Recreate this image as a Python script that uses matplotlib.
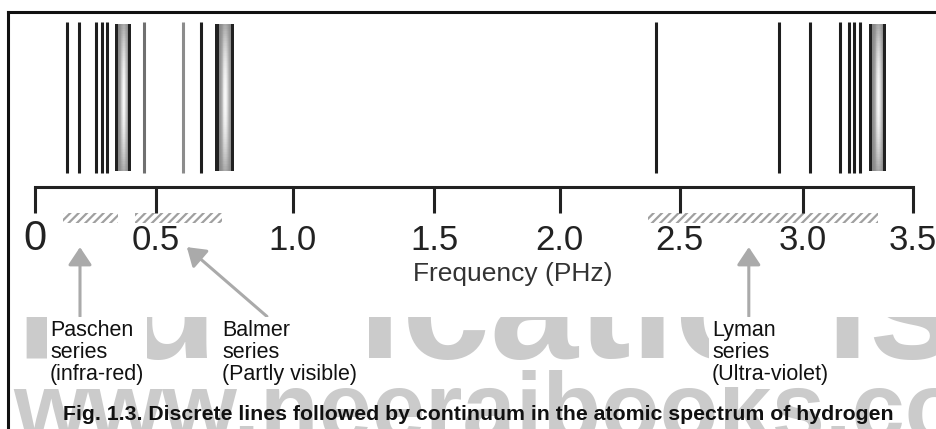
import numpy as np
import matplotlib.pyplot as plt
from matplotlib.patches import Rectangle

plt.rcParams['font.family'] = ['Liberation Sans', 'DejaVu Sans']
plt.rcParams['hatch.linewidth'] = 1.6

# spectral lines (PHz)
paschen_lines = [0.132, 0.182, 0.252, 0.276, 0.299]
paschen_band = (0.331, 0.397)
balmer_lines = [0.452, 0.599, 0.664]
balmer_band = (0.716, 0.785)
lyman_lines = [2.399, 2.903, 3.030, 3.170, 3.209, 3.234, 3.261]
lyman_band = (3.300, 3.379)

# continuum (hatched) ranges under the axis
paschen_cont = (0.116, 0.343)
balmer_cont = (0.413, 0.741)
lyman_cont = (2.367, 3.341)

tick_vals = [0, 0.5, 1.0, 1.5, 2.0, 2.5, 3.0, 3.5]
tick_labels = ['0', '0.5', '1.0', '1.5', '2.0', '2.5', '3.0', '3.5']

series_names = ['Paschen\nseries\n(infra-red)',
                'Balmer\nseries\n(Partly visible)',
                'Lyman\nseries\n(Ultra-violet)']
arrow_tips = [0.186, 0.613, 2.78]
arrow_tails = [0.186, 0.906, 2.78]

caption = 'Fig. 1.3. Discrete lines followed by continuum in the atomic spectrum of hydrogen'

W, H = 937, 429
def fx(px):
    return px / W
def fy(py):
    return 1 - py / H

# the axis in the book is hand drawn, ticks are not evenly spaced
drawn_px = [35, 156, 292.7, 434.3, 560, 680, 803.3, 913.3]
xv = [-100] + tick_vals + [100]
xp = [drawn_px[0] - 100 * 242] + drawn_px + [drawn_px[-1] + 96.5 * 220]

def fwd(x):
    return np.interp(x, xv, xp)
def inv(p):
    return np.interp(p, xp, xv)

fig = plt.figure(figsize=(9.37, 4.29), dpi=100)

# outer frame (top + left only)
frame = fig.add_axes([fx(8), -0.05, 1.0, (H - 12) / H + 0.05])
frame.set_zorder(-2)
frame.patch.set_visible(False)
frame.set_xticks([]); frame.set_yticks([])
for s in ['right', 'bottom']:
    frame.spines[s].set_visible(False)
for s in ['left', 'top']:
    frame.spines[s].set_linewidth(2.2)
    frame.spines[s].set_color('#111111')

# watermark
wm = fig.add_axes([fx(8), fy(429), (W - 8) / W, (429 - 317) / H])
wm.set_zorder(-1)
wm.set_xlim(0, W - 8)
wm.set_ylim(429 - 317, 0)
wm.axis('off')
wm.text(7, 41, 'Publications', fontsize=114, fontweight='bold', color='#cbcbcb',
        va='baseline', ha='left', clip_on=True)
wm.text(5, 123, 'www.neerajbooks.com', fontsize=69, fontweight='bold', color='#cbcbcb',
        va='baseline', ha='left', clip_on=True)

# main spectrum axes
ax = fig.add_axes([fx(35), fy(187), (913 - 35) / W, (187 - 20) / H])
ax.patch.set_visible(False)
ax.set_xscale('function', functions=(fwd, inv))

dark = '#1e1e1e'
ylo, yhi = 0.084, 0.988
ax.vlines(paschen_lines, ylo, yhi, color=dark, lw=2.2)
ax.vlines(balmer_lines, ylo, yhi, color=['#707070', '#8c8c8c', dark], lw=2.2)
ax.vlines(lyman_lines, ylo, yhi, color=dark, lw=2.2)

def draw_band(x0, x1):
    nx, ny = 40, 60
    xe = np.linspace(x0, x1, nx + 1)
    ye = np.linspace(ylo + 0.01, yhi - 0.01, ny + 1)
    u = (np.arange(nx) + 0.5) / nx
    v = (np.arange(ny) + 0.5) / ny
    U, V = np.meshgrid(u, v)
    glow = 0.52 + 0.45 * np.exp(-((U - 0.55) / 0.2) ** 2) * (1 - 0.7 * (2 * V - 1) ** 2)
    C = np.where((U < 0.2) | (U > 0.82), 0.13, glow)
    ax.pcolormesh(xe, ye, C, cmap='gray', vmin=0, vmax=1, shading='flat')

for b in [paschen_band, balmer_band, lyman_band]:
    draw_band(*b)

ax.set_xlim(0, 3.5)
ax.set_ylim(0, 1)
for s in ['top', 'left', 'right']:
    ax.spines[s].set_visible(False)
ax.spines['bottom'].set_linewidth(2.2)
ax.spines['bottom'].set_color('#222222')
ax.set_yticks([])
ax.set_xticks(tick_vals)
ax.set_xticklabels(tick_labels, va='baseline')
ax.tick_params(axis='x', direction='out', length=19, width=2.2, color='#222222',
               labelsize=25, labelcolor='#222222', pad=26)
ax.get_xticklabels()[0].set_fontsize(30)

# hatched continuum strips
gray = '#a0a0a0'
for c0, c1 in [paschen_cont, balmer_cont, lyman_cont]:
    ax.add_patch(Rectangle((c0, -0.216), c1 - c0, 0.06, transform=ax.get_xaxis_transform(),
                           fill=False, lw=0, edgecolor=gray, hatch='////', clip_on=False))

# arrows from the labels
for tip, tail in zip(arrow_tips, arrow_tails):
    ax.annotate('', xy=(tip, -0.36), xycoords=('data', 'axes fraction'),
                xytext=(tail, -0.775), textcoords=('data', 'axes fraction'),
                arrowprops=dict(arrowstyle='-|>,head_length=0.6,head_width=0.4',
                                mutation_scale=18, color='#aaaaaa', lw=2.2,
                                shrinkA=0, shrinkB=0),
                annotation_clip=False)

fig.text(fx(513), fy(274), 'Frequency (PHz)', ha='center', va='center',
         fontsize=19, color='#333333')

for name, xpx in zip(series_names, [50, 222, 712]):
    fig.text(fx(xpx), fy(320), name, ha='left', va='top', fontsize=15.5,
             linespacing=1.05, color='#111111',
             bbox=dict(fc='white', ec='none', pad=2))

fig.text(fx(478), fy(420), caption, ha='center', va='baseline',
         fontsize=15.3, fontweight='bold', color='#111111')

fig.savefig('out.png', dpi=100, facecolor='white')
